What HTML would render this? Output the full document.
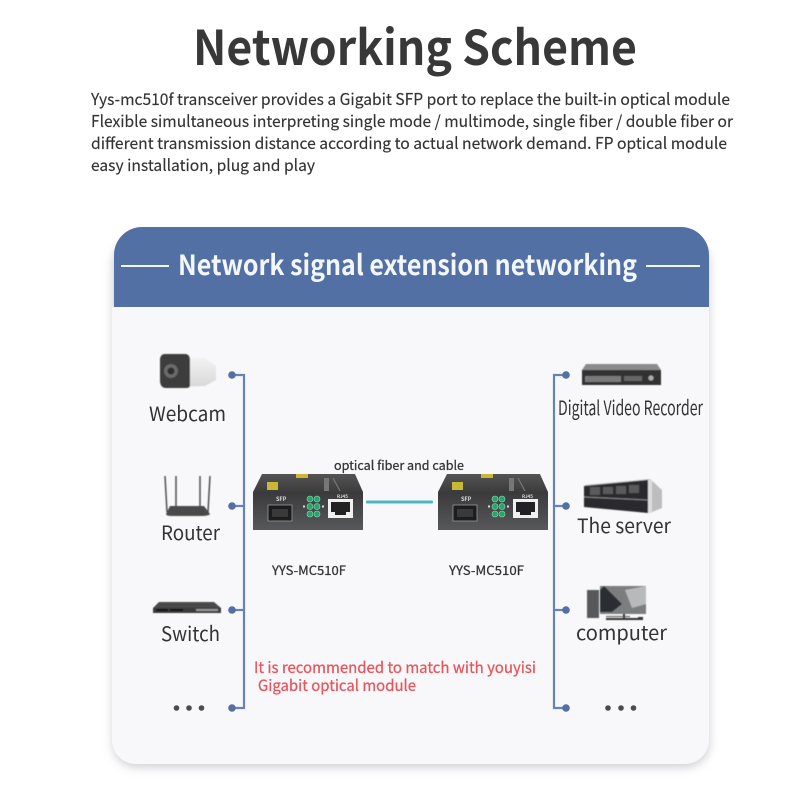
<!DOCTYPE html>
<html lang="en">
<head>
<meta charset="utf-8">
<title>Networking Scheme</title>
<style>
html,body{margin:0;padding:0;background:#fff}
svg{display:block}
text{font-family:"Noto Sans CJK SC","Liberation Sans",sans-serif;fill:#333}
</style>
</head>
<body>
<svg width="800" height="800" viewBox="0 0 800 800" xmlns="http://www.w3.org/2000/svg">
<defs>
<filter id="sh" x="-10%" y="-10%" width="120%" height="120%"><feGaussianBlur stdDeviation="5"/></filter>
<filter id="b1" x="-10%" y="-10%" width="120%" height="120%"><feGaussianBlur stdDeviation="0.5"/></filter>
<linearGradient id="front" x1="0" y1="0" x2="0" y2="1"><stop offset="0" stop-color="#3a3a3c"/><stop offset="1" stop-color="#57585a"/></linearGradient>
<linearGradient id="top" x1="0" y1="0" x2="0" y2="1"><stop offset="0" stop-color="#545454"/><stop offset="1" stop-color="#3c3c3c"/></linearGradient>
<linearGradient id="cam" x1="0" y1="0" x2="0" y2="1"><stop offset="0" stop-color="#f4f4f4"/><stop offset="1" stop-color="#d8d8d8"/></linearGradient>
<g id="mc">
  <path d="M9 0H102L110 18H0Z" fill="url(#top)"/>
  <rect x="0" y="18" width="110" height="38" fill="url(#front)"/>
  <rect x="43" y="0" width="12" height="4" fill="#c9b838"/>
  <rect x="14" y="8" width="11" height="8" fill="#c9b838"/>
  <rect x="71" y="4" width="5" height="13" fill="#777"/>
  <path d="M80 4l7 13" stroke="#777" stroke-width="1.2"/>
  <text x="23" y="27" font-size="5.500" font-weight="700" style="fill:#ddd">SFP</text>
  <text x="84" y="24" font-size="4.500" font-weight="700" style="fill:#ddd">RJ45</text>
  <rect x="15" y="31" width="24" height="16" fill="#1d1d1d" stroke="#999" stroke-width="0.8"/>
  <rect x="19" y="35" width="16" height="8" fill="#3a3a3a"/>
  <rect x="75" y="25" width="25" height="19" fill="#f0f0f0"/>
  <path d="M78 28H97V38H93V41H82V38H78Z" fill="#222"/>
  <g fill="#27a56a" stroke="#8fd9b4" stroke-width="0.6">
    <circle cx="57" cy="25" r="3"/><circle cx="64" cy="25" r="3"/>
    <circle cx="57" cy="32.500" r="3"/><circle cx="64" cy="32.500" r="3"/>
    <circle cx="57" cy="40" r="3"/><circle cx="64" cy="40" r="3"/>
  </g>
  <rect x="50" y="31.500" width="2" height="2" fill="#ddd"/><rect x="69" y="31.500" width="2" height="2" fill="#ddd"/>
</g>
</defs>

<rect width="800" height="800" fill="#fff"/>

<text x="193" y="65" font-size="48" font-weight="700" textLength="444" lengthAdjust="spacingAndGlyphs" style="fill:#383838">Networking Scheme</text>

<g font-size="16" stroke="#333" stroke-width="0.15">
<text x="91" y="105" textLength="639" lengthAdjust="spacingAndGlyphs">Yys-mc510f transceiver provides a Gigabit SFP port to replace the built-in optical module</text>
<text x="91" y="127" textLength="642" lengthAdjust="spacingAndGlyphs">Flexible simultaneous interpreting single mode / multimode, single fiber / double fiber or</text>
<text x="91" y="149" textLength="636" lengthAdjust="spacingAndGlyphs">different transmission distance according to actual network demand. FP optical module</text>
<text x="91" y="171" textLength="224" lengthAdjust="spacingAndGlyphs">easy installation, plug and play</text>
</g>

<!-- card -->
<rect x="113" y="240" width="596" height="527" rx="24" fill="#aeb1ba" opacity="0.65" filter="url(#sh)"/>
<path d="M114 307H709V740a24 24 0 0 1-24 24H136a24 24 0 0 1-24-24V307Z" fill="#f8f8fa"/>
<path d="M114 307V255a28 28 0 0 1 28-28H681a28 28 0 0 1 28 28V307Z" fill="#5270a3"/>
<rect x="121" y="265" width="48" height="2" fill="#f2f5fa"/>
<rect x="646" y="265" width="54" height="2" fill="#f2f5fa"/>
<text x="178" y="275" font-size="28" font-weight="700" textLength="459" lengthAdjust="spacingAndGlyphs" style="fill:#f3f7fc">Network signal extension networking</text>

<!-- buses -->
<g stroke="#6683b3" stroke-width="2.200" fill="none">
  <path d="M232 375H244V708H232"/>
  <path d="M232 506H244"/>
  <path d="M232 610H244"/>
  <path d="M566 375H554V708H566"/>
  <path d="M566 506H554"/>
  <path d="M566 610H554"/>
</g>
<g fill="#5270a3">
  <circle cx="232" cy="375" r="3.800"/><circle cx="232" cy="506" r="3.800"/><circle cx="232" cy="610" r="3.800"/><circle cx="232" cy="708" r="3.800"/>
  <circle cx="566" cy="375" r="3.800"/><circle cx="566" cy="506" r="3.800"/><circle cx="566" cy="610" r="3.800"/><circle cx="566" cy="708" r="3.800"/>
</g>

<!-- webcam -->
<g filter="url(#b1)">
  <path d="M170 356L205 358L216 366V380L205 386L170 387Z" fill="url(#cam)"/>
  <path d="M164 354H186Q190 355 190 360V385Q190 388 186 388H166Q160 388 160 380V360Q160 355 164 354Z" fill="#3c3c3e"/>
  <circle cx="171" cy="371" r="7" fill="#6a6a6a"/><circle cx="171" cy="371" r="3.500" fill="#2e2e2e"/>
</g>

<!-- router -->
<g filter="url(#b1)">
  <path d="M165 476L167 512M176 476V512M200 476V512M210 476L208 512" stroke="#444" stroke-width="1.400" fill="none"/>
  <path d="M170 506H204L210 514Q209 516 200 516H172Q166 516 166 514Z" fill="#4a4a4a"/>
</g>

<!-- switch -->
<g filter="url(#b1)">
  <path d="M159 602H214L221 608H153Z" fill="#4a4a4a"/>
  <rect x="153" y="608" width="68" height="5" fill="#3a3a3a"/>
  <rect x="156" y="609" width="12" height="2" fill="#111"/><rect x="170" y="609" width="13" height="2" fill="#111"/>
  <rect x="196" y="609" width="22" height="2" fill="#999"/>
</g>

<!-- DVR -->
<g filter="url(#b1)">
  <path d="M586 364H657L661 370H582Z" fill="#8a8a8a"/>
  <rect x="582" y="370" width="79" height="15" fill="#303032"/>
  <rect x="585" y="376" width="36" height="6" fill="#8d8d8d" opacity="0.8"/>
  <rect x="624" y="376" width="18" height="5" fill="#666"/>
  <circle cx="651" cy="378" r="2.600" fill="#aaa"/>
</g>

<!-- server -->
<g filter="url(#b1)">
  <path d="M585 485L650 479L662 490V508L650 513L584 507Z" fill="#bdbdbf"/>
  <path d="M584 486L648 480V513L584 507Z" fill="#2b2b2d"/>
  <path d="M590 487H600V495H590ZM603 487H613V494H603ZM616 486H626V494H616ZM629 485H639V493H629Z" fill="#5a5a5c"/>
  <path d="M584 497L648 500" stroke="#888" stroke-width="1"/>
  <rect x="648" y="480" width="4" height="33" fill="#dcdcdc"/>
</g>

<!-- computer -->
<g filter="url(#b1)">
  <rect x="587" y="590" width="12" height="28" fill="#57595c"/>
  <rect x="600" y="586" width="46" height="28" fill="#7b7d7e"/>
  <path d="M604 586L622 604L612 612H600V590Z" fill="#2c2e30"/>
  <path d="M625 590L646 586V604L632 608Z" fill="#b8baba"/>
  <rect x="623" y="614" width="2" height="5" fill="#333"/>
  <rect x="606" y="618" width="32" height="2" fill="#333"/>
  <rect x="606" y="616" width="24" height="1" fill="#555"/>
  <rect x="638" y="617" width="5" height="3" fill="#333"/>
</g>

<!-- labels -->
<g font-size="20">
<text x="149" y="421" textLength="77" lengthAdjust="spacingAndGlyphs">Webcam</text>
<text x="161" y="540" textLength="59" lengthAdjust="spacingAndGlyphs">Router</text>
<text x="161" y="641" textLength="59" lengthAdjust="spacingAndGlyphs">Switch</text>
<text x="558" y="415" textLength="145" lengthAdjust="spacingAndGlyphs">Digital Video Recorder</text>
<text x="577" y="533" textLength="94" lengthAdjust="spacingAndGlyphs">The server</text>
<text x="576" y="640" textLength="91" lengthAdjust="spacingAndGlyphs">computer</text>
</g>

<!-- dots -->
<g fill="#4c4c4e">
  <circle cx="176.500" cy="708" r="2.800"/><circle cx="189" cy="708" r="2.800"/><circle cx="201.500" cy="708" r="2.800"/>
  <circle cx="608" cy="708" r="2.800"/><circle cx="621" cy="708" r="2.800"/><circle cx="633.500" cy="708" r="2.800"/>
</g>

<!-- transceivers -->
<use href="#mc" x="253" y="474"/>
<use href="#mc" x="438" y="474"/>
<rect x="366" y="500.500" width="67" height="3" rx="1" fill="#4bb8c0"/>
<g stroke="#333" stroke-width="0.25">
<text x="334" y="470" font-size="12.500" textLength="130" lengthAdjust="spacingAndGlyphs">optical fiber and cable</text>
<text x="272" y="575" font-size="12.500" textLength="74" lengthAdjust="spacingAndGlyphs">YYS-MC510F</text>
<text x="449" y="575" font-size="12.500" textLength="75" lengthAdjust="spacingAndGlyphs">YYS-MC510F</text>
</g>

<!-- note -->
<g stroke="#e8545a" stroke-width="0.25">
<text x="254" y="673" font-size="15.500" textLength="282" lengthAdjust="spacingAndGlyphs" style="fill:#e8545a">It is recommended to match with youyisi</text>
<text x="258" y="691" font-size="15.500" textLength="158" lengthAdjust="spacingAndGlyphs" style="fill:#e8545a">Gigabit optical module</text>
</g>
</svg>
</body>
</html>
